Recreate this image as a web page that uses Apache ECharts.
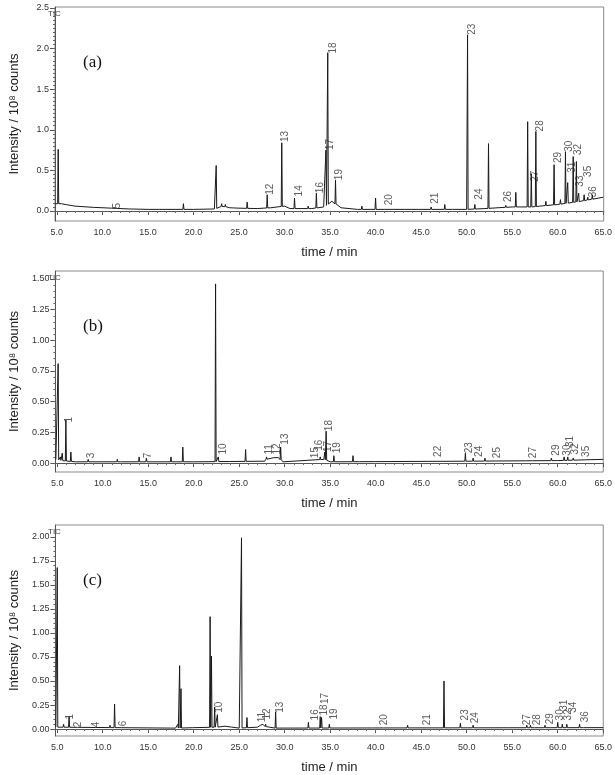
<!DOCTYPE html>
<html>
<head>
<meta charset="utf-8">
<script src="https://cdn.jsdelivr.net/npm/echarts@6/dist/echarts.min.js"></script>
<style>
  html, body { margin: 0; padding: 0; background: #fff; }
  #chart { width: 615px; height: 775px; }
</style>
</head>
<body>
<div id="chart"></div>
<script>
// tick labels
const xTicks = [5, 10, 15, 20, 25, 30, 35, 40, 45, 50, 55, 60, 65];
const yTicksA = [0, 0.5, 1.0, 1.5, 2.0, 2.5];
const yTicksB = [0, 0.25, 0.5, 0.75, 1.0, 1.25, 1.5];
const yTicksC = [0, 0.25, 0.5, 0.75, 1.0, 1.25, 1.5, 1.75, 2.0];

// (a) baseline [time, intensity]
const baseA = [[4.85, 0.09], [5.5, 0.09], [7, 0.06], [9, 0.045], [11, 0.035], [13, 0.025], [15, 0.02],
  [20, 0.02], [22.3, 0.025], [23.2, 0.06], [24, 0.04], [25, 0.035], [27, 0.03], [28.5, 0.04], [30, 0.06],
  [30.6, 0.03], [33, 0.03], [34.3, 0.05], [35.2, 0.12], [36.2, 0.04], [38, 0.02], [45, 0.02], [50, 0.02],
  [52, 0.03], [55, 0.05], [57.3, 0.05], [58, 0.06], [60, 0.08], [62.5, 0.12], [63.5, 0.14], [65, 0.17]];
// (a) peaks [time, height]
const peaksA = [[5.15, 0.76], [6.1, 0.09], [11.6, 0.04], [16.3, 0.04], [18.9, 0.09], [22.5, 0.56], [23.1, 0.09],
  [23.5, 0.08], [24.5, 0.05], [25.9, 0.11], [26.7, 0.05], [28.1, 0.2], [29.7, 0.84], [31.1, 0.16], [32.6, 0.06],
  [33.5, 0.22], [34.55, 0.75], [34.75, 1.95], [35.6, 0.38], [38.5, 0.06], [40.0, 0.16], [41.0, 0.04],
  [44.8, 0.03], [46.1, 0.05], [47.6, 0.08], [48.5, 0.03], [50.1, 2.17], [50.9, 0.08], [52.4, 0.83],
  [53.2, 0.06], [53.5, 0.05], [54.3, 0.07], [55.4, 0.23], [56.7, 1.10], [57.1, 0.46], [57.6, 0.98],
  [58.7, 0.12], [59.6, 0.57], [60.3, 0.14], [60.85, 0.73], [61.1, 0.35], [61.7, 0.67], [62.05, 0.61],
  [62.3, 0.22], [62.9, 0.2], [63.3, 0.17], [63.8, 0.2]];
// (a) peak numbers [name, time, height]
const labelsA = [['5', 11.6, 0.03], ['12', 28.4, 0.2], ['13', 30.1, 0.85], ['14', 31.6, 0.18], ['16', 33.9, 0.22],
  ['17', 35.0, 0.75], ['18', 35.3, 1.94], ['19', 36.0, 0.38], ['20', 41.5, 0.07], ['21', 46.6, 0.09],
  ['23', 50.6, 2.17], ['24', 51.4, 0.14], ['26', 54.6, 0.11], ['27', 57.5, 0.36], ['28', 58.1, 0.98],
  ['29', 60.1, 0.59], ['30', 61.3, 0.73], ['31', 61.6, 0.47], ['32', 62.2, 0.69], ['33', 62.5, 0.3],
  ['35', 63.4, 0.42], ['36', 63.9, 0.17]];

// (b)
const baseB = [[4.85, 0.03], [5.5, 0.02], [7, 0.01], [20, 0.01], [27.8, 0.015], [28.1, 0.04], [29.3, 0.045],
  [29.8, 0.01], [34.3, 0.03], [35, 0.01], [50, 0.015], [60, 0.02], [65, 0.03]];
const peaksB = [[5.1, 0.81], [5.35, 0.05], [5.55, 0.08], [5.95, 0.35], [6.5, 0.09], [8.4, 0.03], [11.6, 0.03],
  [12.0, 0.02], [14.0, 0.05], [14.8, 0.04], [15.6, 0.02], [17.5, 0.05], [18.8, 0.13], [22.4, 1.46],
  [22.7, 0.05], [24.0, 0.02], [25.7, 0.11], [28.0, 0.05], [28.8, 0.05], [29.55, 0.13], [33.4, 0.03],
  [33.9, 0.05], [34.4, 0.09], [34.55, 0.26], [35.4, 0.06], [37.5, 0.06], [38.3, 0.02], [39.9, 0.02],
  [45.9, 0.02], [46.9, 0.03], [49.85, 0.08], [50.7, 0.04], [52.0, 0.04], [53.5, 0.03], [56.5, 0.02],
  [57.3, 0.03], [59.3, 0.04], [60.7, 0.05], [61.1, 0.05], [61.7, 0.04], [63.1, 0.03]];
const labelsB = [['1', 6.3, 0.33], ['3', 8.7, 0.04], ['7', 15.0, 0.04], ['10', 23.2, 0.07], ['11', 28.25, 0.07],
  ['12', 29.2, 0.07], ['13', 30.1, 0.15], ['15', 33.4, 0.04], ['16', 33.8, 0.1], ['17', 34.8, 0.09],
  ['18', 34.9, 0.26], ['19', 35.8, 0.08], ['22', 46.9, 0.05], ['23', 50.3, 0.08], ['24', 51.4, 0.05],
  ['25', 53.4, 0.04], ['27', 57.3, 0.04], ['29', 59.8, 0.06], ['30', 61.0, 0.06], ['31', 61.4, 0.13],
  ['32', 61.9, 0.07], ['35', 63.1, 0.05]];

// (c)
const baseC = [[4.85, 0.02], [18, 0.01], [22.5, 0.02], [23.5, 0.03], [25, 0.01], [27, 0.02], [27.6, 0.05],
  [28.1, 0.01], [65, 0.015]];
const peaksC = [[5.0, 1.68], [5.7, 0.05], [6.3, 0.13], [7.3, 0.03], [9.3, 0.02], [10.8, 0.04], [11.3, 0.26],
  [12.1, 0.03], [17.5, 0.02], [18.25, 0.05], [18.45, 0.66], [18.6, 0.42], [19.9, 0.03], [21.8, 1.17],
  [21.95, 0.76], [22.3, 0.23], [22.6, 0.15], [23.5, 0.04], [24.2, 0.03], [25.25, 1.99], [25.85, 0.12],
  [27.4, 0.06], [27.9, 0.05], [29.0, 0.18], [32.6, 0.07], [33.4, 0.03], [33.9, 0.13], [34.05, 0.12],
  [34.9, 0.05], [36.9, 0.02], [39.6, 0.03], [40.9, 0.02], [43.5, 0.04], [45.6, 0.03], [47.5, 0.50],
  [49.3, 0.06], [50.1, 0.03], [50.7, 0.04], [51.4, 0.03], [54.5, 0.02], [56.6, 0.04], [57.0, 0.04],
  [57.5, 0.03], [58.6, 0.04], [59.3, 0.03], [60.0, 0.07], [60.5, 0.05], [61.0, 0.05], [62.4, 0.05],
  [62.9, 0.03]];
const labelsC = [['1', 6.4, 0.1], ['2', 7.3, 0.02], ['4', 9.3, 0.02], ['6', 12.2, 0.03], ['10', 22.8, 0.17],
  ['11', 27.5, 0.07], ['12', 28.1, 0.1], ['13', 29.5, 0.17], ['16', 33.4, 0.09], ['18', 34.3, 0.14],
  ['17', 34.4, 0.26], ['19', 35.4, 0.1], ['20', 40.9, 0.04], ['21', 45.7, 0.04], ['23', 49.8, 0.09],
  ['24', 50.9, 0.06], ['27', 56.6, 0.04], ['28', 57.7, 0.04], ['29', 59.2, 0.05], ['30', 60.3, 0.09],
  ['31', 60.7, 0.19], ['32', 61.1, 0.09], ['34', 61.75, 0.17], ['36', 63.0, 0.07]];

function baseAt(base, t) {
  for (var i = 1; i < base.length; i++) {
    if (t <= base[i][0]) {
      var a = base[i - 1], b = base[i];
      return a[1] + (b[1] - a[1]) * (t - a[0]) / (b[0] - a[0]);
    }
  }
  return base[base.length - 1][1];
}

function trace(base, peaks) {
  var pts = base.map(function (p) { return [p[0], p[1]]; });
  peaks.forEach(function (p) {
    var b = baseAt(base, p[0]);
    pts.push([p[0] - 0.06, b], [p[0], p[1]], [p[0] + 0.06, b]);
  });
  pts.sort(function (a, b) { return a[0] - b[0]; });
  return pts;
}

function minorTicks(from, to, step) {
  var out = [];
  for (var v = from; v <= to + 1e-9; v += step) out.push(Math.round(v * 1000) / 1000);
  return out;
}

const panels = [
  { top: 7, height: 214, right: 7, xmax: 65.05, ymin: -0.123, ymax: 2.512, ticks: yTicksA, dec: 1,
    base: baseA, peaks: peaksA, labels: labelsA, letter: '(a)' },
  { top: 271, height: 201, right: 9, xmax: 65.0, ymin: -0.073, ymax: 1.565, ticks: yTicksB, dec: 2,
    base: baseB, peaks: peaksB, labels: labelsB, letter: '(b)' },
  { top: 525, height: 214, right: 11, xmax: 65.0, ymin: -0.072, ymax: 2.123, ticks: yTicksC, dec: 2,
    base: baseC, peaks: peaksC, labels: labelsC, letter: '(c)' }
];

const chart = echarts.init(document.getElementById('chart'), null, { renderer: 'canvas' });

var grids = [], xAxes = [], yAxes = [], series = [], graphics = [];
var font = 'Liberation Sans, Arial, sans-serif';

panels.forEach(function (p, i) {
  grids.push({ left: 45, right: p.right, top: p.top, height: p.height, show: true,
    borderColor: '#8a8a8a', borderWidth: 1 });

  xAxes.push({
    type: 'value', gridIndex: i, min: 4.8, max: p.xmax, position: 'bottom',
    name: 'time / min', nameLocation: 'middle', nameGap: 25,
    nameTextStyle: { fontFamily: font, fontSize: 13, color: '#222' },
    axisLine: { show: true, lineStyle: { color: '#555', width: 1 } },
    axisTick: { show: true, customValues: xTicks, length: 4, lineStyle: { color: '#555' } },
    axisLabel: { customValues: xTicks, fontFamily: font, fontSize: 9, color: '#333', margin: 7,
      formatter: function (v) { return v.toFixed(1); } },
    splitLine: { show: false }
  });
  xAxes.push({
    type: 'value', gridIndex: i, min: 4.8, max: p.xmax, position: 'bottom',
    axisLine: { show: false }, axisLabel: { show: false }, splitLine: { show: false },
    axisTick: { show: true, customValues: minorTicks(5, 65, 1), length: 2, lineStyle: { color: '#666' } }
  });

  yAxes.push({
    type: 'value', gridIndex: i, min: p.ymin, max: p.ymax, position: 'left',
    name: 'Intensity / 10\u2078 counts', nameLocation: 'middle', nameGap: 34,
    nameTextStyle: { fontFamily: font, fontSize: 13, color: '#222' },
    axisLine: { show: true, lineStyle: { color: '#555', width: 1 } },
    axisTick: { show: true, customValues: p.ticks, length: 5, lineStyle: { color: '#555' } },
    axisLabel: { customValues: p.ticks, fontFamily: font, fontSize: 9, color: '#333', margin: 6,
      formatter: function (v) { return v.toFixed(p.dec); } },
    splitLine: { show: false }
  });
  yAxes.push({
    type: 'value', gridIndex: i, min: p.ymin, max: p.ymax, position: 'left',
    axisLine: { show: false }, axisLabel: { show: false }, splitLine: { show: false },
    axisTick: { show: true, customValues: minorTicks(0, p.ticks[p.ticks.length - 1], 0.05), length: 2,
      lineStyle: { color: '#666' } }
  });

  series.push({
    type: 'line', xAxisIndex: 2 * i, yAxisIndex: 2 * i,
    data: trace(p.base, p.peaks), showSymbol: false, symbol: 'none', silent: true,
    lineStyle: { color: '#1a1a1a', width: 1 }
  });
  series.push({
    type: 'scatter', xAxisIndex: 2 * i, yAxisIndex: 2 * i, silent: true,
    symbol: 'circle', symbolSize: 1, itemStyle: { color: 'rgba(0,0,0,0)' },
    data: p.labels.map(function (l) { return { name: l[0], value: [l[1], l[2]] }; }),
    label: { show: true, formatter: '{b}', position: 'inside', rotate: 90, align: 'left',
      verticalAlign: 'middle', fontFamily: font, fontSize: 10, color: '#333' },
    labelLayout: { hideOverlap: false }
  });

  graphics.push({ type: 'text', left: 48, top: p.top + 3,
    style: { text: 'TIC', fontFamily: font, fontSize: 8, fill: '#444' } });
  graphics.push({ type: 'text', left: 83, top: p.top + 47,
    style: { text: p.letter, fontFamily: 'Liberation Serif, Times New Roman, serif', fontSize: 17, fill: '#111' } });
});

chart.setOption({
  backgroundColor: '#ffffff',
  animation: false,
  grid: grids,
  xAxis: xAxes,
  yAxis: yAxes,
  series: series,
  graphic: graphics
});
</script>
</body>
</html>
